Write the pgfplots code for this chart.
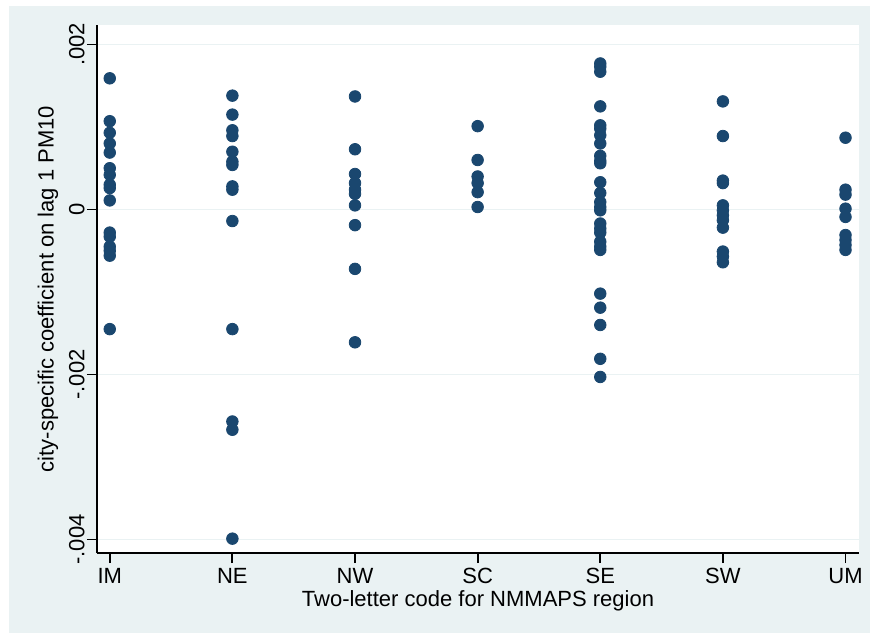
\documentclass[border=0pt]{standalone}
\usepackage{fontspec}
\setmainfont{Liberation Sans}
\usepackage{pgfplots}
\usepackage{pgfplotstable}
\pgfplotsset{compat=1.18}
\usetikzlibrary{backgrounds,calc}
\definecolor{graphbg}{HTML}{EAF2F3}
\definecolor{gridc}{HTML}{EAF2F3}
\definecolor{dotc}{HTML}{1A476F}

% region index (0=IM ... 6=UM), city coefficient
\pgfplotstableread{
r y
0 0.00159
0 0.00107
0 0.00093
0 0.00080
0 0.00069
0 0.00050
0 0.00042
0 0.00030
0 0.00026
0 0.00011
0 -0.00028
0 -0.00033
0 -0.00045
0 -0.00050
0 -0.00056
0 -0.00145
1 0.00138
1 0.00115
1 0.00096
1 0.00089
1 0.00070
1 0.00058
1 0.00054
1 0.00028
1 0.00024
1 -0.00014
1 -0.00145
1 -0.00257
1 -0.00267
1 -0.00399
2 0.00137
2 0.00073
2 0.00043
2 0.00032
2 0.00024
2 0.00019
2 0.00005
2 -0.00019
2 -0.00072
2 -0.00161
3 0.00101
3 0.00060
3 0.00040
3 0.00032
3 0.00021
3 0.00003
4 0.00177
4 0.00173
4 0.00167
4 0.00125
4 0.00102
4 0.00098
4 0.00090
4 0.00080
4 0.00065
4 0.00059
4 0.00056
4 0.00033
4 0.00020
4 0.00009
4 0.00003
4 -0.00001
4 -0.00017
4 -0.00023
4 -0.00028
4 -0.00039
4 -0.00045
4 -0.00049
4 -0.00102
4 -0.00119
4 -0.00140
4 -0.00181
4 -0.00203
5 0.00131
5 0.00089
5 0.00035
5 0.00032
5 0.00005
5 -0.00001
5 -0.00007
5 -0.00013
5 -0.00022
5 -0.00051
5 -0.00057
5 -0.00064
6 0.00087
6 0.00024
6 0.00018
6 0.00001
6 -0.00009
6 -0.00031
6 -0.00037
6 -0.00043
6 -0.00049
}\coefs

\begin{document}
\begin{tikzpicture}
\begin{axis}[
    name=ax,
    scale only axis,
    width=381pt,
    height=264pt,
    xmin=-0.104, xmax=6.11,
    ymin=-0.004164, ymax=0.002236,
    scaled y ticks=false,
    axis x line*=bottom,
    axis y line*=left,
    axis line style={line width=0.9pt,-},
    axis background/.style={fill=white},
    xtick={0,1,2,3,4,5,6},
    xticklabels={IM,NE,NW,SC,SE,SW,UM},
    ytick={-0.004,-0.002,0,0.002},
    yticklabels={-.004,-.002,0,.002},
    tick align=outside,
    major tick length=5pt,
    tick style={line width=0.9pt,black},
    ymajorgrids,
    grid style={gridc,line width=0.8pt},
    tick label style={font=\fontsize{11}{13}\selectfont},
    yticklabel style={rotate=90,anchor=south,inner sep=1pt},
    xticklabel style={anchor=north,inner sep=2.5pt},
    every axis x label/.style={at={(axis description cs:0.5,0)},yshift=-24pt,anchor=center,font=\fontsize{11}{13}\selectfont},
    every axis y label/.style={at={(axis description cs:0,0.5)},xshift=-24.5pt,rotate=90,anchor=center,font=\fontsize{11}{13}\selectfont},
    xlabel={Two-letter code for NMMAPS region},
    ylabel={city-specific coefficient on lag 1 PM10},
    clip=false,
]
\addplot[only marks,mark=*,mark size=2.9pt,color=dotc,mark options={draw=dotc,fill=dotc}] table[x=r,y=y] {\coefs};
\end{axis}
\begin{scope}[on background layer]
\fill[white] ($(ax.south west)+(-48.5pt,-40pt)$) rectangle ($(ax.south west)+(386.5pt,276.5pt)$);
\fill[graphbg] ($(ax.south west)+(-44pt,-40pt)$) rectangle ($(ax.south west)+(386.5pt,273.5pt)$);
\end{scope}
\pgfresetboundingbox
\path ($(ax.south west)+(-48.5pt,-40pt)$) rectangle ($(ax.south west)+(386.5pt,276.5pt)$);
\end{tikzpicture}
\end{document}
